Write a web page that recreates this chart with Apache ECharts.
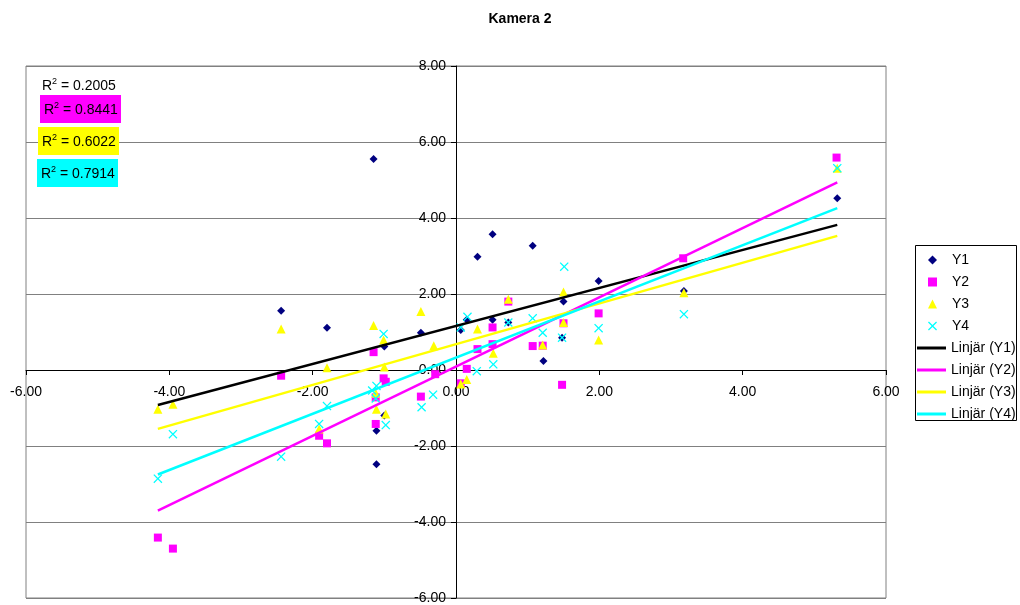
<!DOCTYPE html>
<html>
<head>
<meta charset="utf-8">
<script src="https://cdn.jsdelivr.net/npm/echarts@6/dist/echarts.min.js"></script>
<style>html,body{margin:0;padding:0;background:#fff}#c{width:1020px;height:605px}</style>
</head>
<body>
<div id="c"></div>
<script>
// ---- data ----
const titleText = "Kamera 2";
const seriesNames = ["Y1", "Y2", "Y3", "Y4"];
const trendNames = ["Linjär (Y1)", "Linjär (Y2)", "Linjär (Y3)", "Linjär (Y4)"];
const r2Labels = ["0.2005", "0.8441", "0.6022", "0.7914"];

const y1 = [[-2.44,1.56],[-1.80,1.11],[-1.15,5.55],[-1.00,0.62],[-1.00,-1.20],[-1.11,-1.60],[-1.11,-2.48],
  [-0.49,0.98],[0.066,1.05],[0.15,1.32],[0.30,2.98],[0.51,3.57],[0.51,1.32],[0.73,1.25],[1.07,3.27],
  [1.22,0.24],[1.50,1.80],[1.48,0.85],[1.99,2.34],[3.18,2.08],[5.32,4.52]];
const y2 = [[-4.16,-4.41],[-3.95,-4.70],[-2.44,-0.15],[-1.91,-1.73],[-1.80,-1.93],[-1.15,0.47],[-1.01,-0.22],
  [-0.98,-0.31],[-1.12,-0.72],[-1.12,-1.42],[-0.49,-0.70],[-0.29,-0.11],[0.066,-0.35],[0.15,0.03],[0.30,0.55],
  [0.51,1.12],[0.51,0.68],[0.73,1.80],[1.07,0.63],[1.21,0.64],[1.50,1.23],[1.48,-0.39],[1.99,1.49],[3.17,2.94],[5.31,5.59]];
const y3 = [[-4.16,-1.03],[-3.95,-0.90],[-2.44,1.08],[-1.91,-1.55],[-1.80,0.06],[-1.15,1.17],[-1.01,0.79],
  [-1.00,0.08],[-1.12,-0.61],[-1.11,-1.03],[-0.98,-1.16],[-0.49,1.54],[-0.31,0.64],[0.066,-0.37],[0.15,-0.25],
  [0.30,1.08],[0.52,0.44],[0.73,1.86],[1.21,0.66],[1.50,2.05],[1.50,1.25],[1.99,0.79],[3.18,2.03],[5.32,5.31]];
const y4 = [[-4.16,-2.86],[-3.95,-1.69],[-2.44,-2.28],[-1.91,-1.42],[-1.80,-0.95],[-1.01,0.95],[-1.11,-0.42],
  [-1.17,-0.54],[-1.12,-0.75],[-0.98,-1.45],[-0.48,-0.98],[-0.32,-0.65],[0.066,1.12],[0.16,1.40],[0.29,-0.03],
  [0.52,0.15],[0.73,1.25],[1.07,1.36],[1.21,0.98],[1.51,2.72],[1.48,0.85],[1.99,1.10],[3.18,1.47],[5.32,5.31]];

// trend line end points (x, y)
const t1 = [[-4.16,-0.92],[5.32,3.82]];
const t2 = [[-4.16,-3.70],[5.32,4.94]];
const t3 = [[-4.16,-1.55],[5.32,3.53]];
const t4 = [[-4.16,-2.75],[5.32,4.26]];

// ---- styling ----
const FONT = "'Liberation Sans', Arial, sans-serif";
const colors = ["#000080", "#FF00FF", "#FFFF00", "#00FFFF"];
const lineColors = ["#000000", "#FF00FF", "#FFFF00", "#00FFFF"];
const xSym = "path://M0,1L1,0L5,4L9,0L10,1L6,5L10,9L9,10L5,6L1,10L0,9L4,5Z";
const symbols = ["diamond", "rect", "triangle", xSym];
const sizes = [8, 8, 9, 9];
const pts = [y1, y2, y3, y4];
const trends = [t1, t2, t3, t4];
const r2Bg = [null, "#FF00FF", "#FFFF00", "#00FFFF"];
const r2Box = [[38, 72, 82, 26], [40, 95, 81, 28], [38, 127, 81, 28], [37, 159, 81, 28]];
const GRID = { left: 26, top: 66, right: 134, bottom: 7 };

const series = [];
pts.forEach((d, i) => series.push({
  name: seriesNames[i], type: "scatter", data: d, symbol: symbols[i], symbolSize: sizes[i],
  itemStyle: { color: colors[i], opacity: 1 }, z: 3
}));
trends.forEach((d, i) => series.push({
  name: trendNames[i], type: "line", data: d, symbol: "none", showSymbol: false,
  lineStyle: { color: lineColors[i], width: 2.5 }, itemStyle: { color: lineColors[i] }, z: 4
}));

const graphics = [];
r2Labels.forEach((v, i) => {
  const b = r2Box[i];
  if (r2Bg[i]) graphics.push({ type: "rect", shape: { x: b[0], y: b[1], width: b[2], height: b[3] },
    style: { fill: r2Bg[i] }, z: 10 });
  graphics.push({ type: "text", x: b[0] + 4, y: b[1] + b[3] / 2, z: 11,
    style: {
      text: "{a|R}{s|2}{a| = " + v + "}", verticalAlign: "middle",
      rich: {
        a: { fontSize: 14, fontFamily: FONT, fill: "#000", lineHeight: 16, verticalAlign: "bottom" },
        s: { fontSize: 9, fontFamily: FONT, fill: "#000", lineHeight: 16, verticalAlign: "top" }
      }
    } });
});
graphics.push({ type: "rect", shape: { x: 915.5, y: 245.5, width: 101, height: 175 },
  style: { fill: "#fff", stroke: "#000", lineWidth: 1 }, z: 0 });

const legendText = { fontFamily: FONT, fontSize: 14, color: "#000", lineHeight: 16 };

const chart = echarts.init(document.getElementById("c"), null, { renderer: "canvas" });
const option = {
  animation: false,
  backgroundColor: "#fff",
  title: { text: titleText, left: 515, top: 7, textAlign: "center",
    textStyle: { fontFamily: FONT, fontSize: 14, fontWeight: "bold", color: "#000" } },
  grid: Object.assign({ show: true, borderColor: "#808080", borderWidth: 1,
    backgroundColor: "transparent", containLabel: false, outerBoundsMode: "none" }, GRID),
  xAxis: {
    type: "value", min: -6, max: 6, interval: 2, position: "bottom", offset: 0,
    axisLine: { onZero: false, lineStyle: { color: "#000", width: 1 } },
    axisTick: { show: true, length: 5, lineStyle: { color: "#000" } },
    axisLabel: { margin: 15, fontFamily: FONT, fontSize: 14, color: "#000",
      formatter: v => v.toFixed(2), showMinLabel: true, showMaxLabel: true },
    splitLine: { show: false }
  },
  yAxis: {
    type: "value", min: -6, max: 8, interval: 2, position: "left", offset: 0,
    axisLine: { onZero: false, lineStyle: { color: "#000", width: 1 } },
    axisTick: { show: true, length: 5, lineStyle: { color: "#000" } },
    axisLabel: { margin: 10, fontFamily: FONT, fontSize: 14, color: "#000",
      formatter: v => v.toFixed(2), showMinLabel: true, showMaxLabel: true },
    splitLine: { show: true, lineStyle: { color: "#808080", width: 1 } }
  },
  legend: [
    { orient: "vertical", left: 928, top: 252, padding: 0, itemWidth: 9, itemHeight: 9, itemGap: 6,
      data: seriesNames, selectedMode: false, textStyle: Object.assign({ padding: [0, 0, 0, 10] }, legendText) },
    { orient: "vertical", left: 917, top: 340, padding: 0, itemWidth: 29, itemHeight: 3, itemGap: 6,
      icon: "rect", data: trendNames, selectedMode: false, textStyle: legendText }
  ],
  graphic: graphics,
  series: series
};
chart.setOption(option);
// move both axes (line, ticks and labels) to cross at zero, like the reference
const zero = chart.convertToPixel({ gridIndex: 0 }, [0, 0]);
const H = chart.getHeight();
chart.setOption({
  xAxis: { offset: -((H - GRID.bottom) - zero[1]) },
  yAxis: { offset: -(zero[0] - GRID.left) }
});
</script>
</body>
</html>
